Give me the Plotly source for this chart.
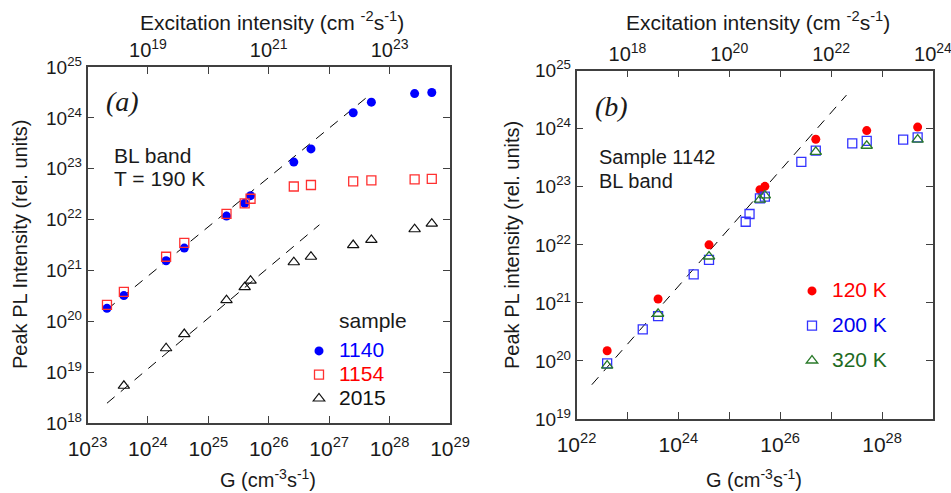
import plotly.graph_objects as go

# ---------------- data: panel (a) ----------------
G_a = [2.1e23, 4e23, 2e24, 4e24, 2e25, 4e25, 5e25, 2.6e26, 5e26, 2.5e27, 5e27, 2.6e28, 5e28]
I_1140 = [1.8e20, 3.2e20, 1.55e21, 2.75e21, 1.17e22, 2.1e22, 2.95e22, 1.35e23, 2.45e23,
          1.26e24, 2.04e24, 3.0e24, 3.16e24]
I_1154 = [2.1e20, 3.8e20, 1.86e21, 3.47e21, 1.29e22, 2.09e22, 2.57e22, 4.47e22, 4.79e22,
          5.62e22, 5.89e22, 6.17e22, 6.3e22]
G_a_2015 = [4e23, 2e24, 4e24, 2e25, 4e25, 5e25, 2.6e26, 5e26, 2.5e27, 5e27, 2.6e28, 5e28]
I_2015 = [5.4e18, 2.95e19, 5.6e19, 2.6e20, 4.7e20, 6.3e20, 1.45e21, 1.86e21, 3.16e21,
          3.98e21, 6.46e21, 8.3e21]
fit_a1_x = [2.1e23, 5.0e27]
fit_a1_y = [1.7e20, 3.0e24]
fit_a2_x = [2.1e23, 6.9e26]
fit_a2_y = [2.45e18, 7.9e21]

# ---------------- data: panel (b) ----------------
G_b_few = [4e22, 4e23, 4e24, 4e25, 5e25, 5e26, 5e27, 5e28]
I_120K = [1.5e20, 1.17e21, 1.0e22, 8.9e22, 1.02e23, 6.6e23, 9.3e23, 1.07e24]
G_b_200 = [4e22, 2e23, 4e23, 2e24, 4e24, 2.1e25, 2.5e25, 4e25, 5e25, 2.6e26, 5e26,
           2.6e27, 5e27, 2.6e28, 5e28]
I_200K = [9.1e19, 3.5e20, 5.9e20, 3.1e21, 5.5e21, 2.5e22, 3.4e22, 6.3e22, 6.8e22,
          2.7e23, 4.2e23, 5.6e23, 6.2e23, 6.5e23, 7.1e23]
I_320K = [8.3e19, 6.5e20, 6.3e21, 6.0e22, 7.1e22, 4.0e23, 5.1e23, 6.5e23]
fit_b_x = [2e22, 2e27]
fit_b_y = [3.9e19, 3.8e24]

# tick decades
a_bottom_dec = list(range(23, 30))
a_top_dec = list(range(18, 25))
a_top_lab = [19, 21, 23]
a_y_dec = list(range(18, 26))
b_bottom_dec = list(range(22, 30))
b_bottom_lab = [22, 24, 26, 28]
b_top_dec = list(range(17, 25))
b_top_lab = [18, 20, 22, 24]
b_y_dec = list(range(19, 26))

FONT = "Liberation Sans"
TXT = "#1a1a1a"
LINE = "#404040"
W, H = 951, 493


def ticks(decs, labelled=None):
    vals = [10.0 ** d for d in decs]
    txt = [("10<sup>%d</sup>" % d) if (labelled is None or d in labelled) else "" for d in decs]
    return vals, txt


def lname(text, color):
    return "<span style='color:%s;font-size:21px'>%s</span>" % (color, text)


fig = go.Figure()

# panel (a) traces
fig.add_trace(go.Scatter(x=fit_a1_x, y=fit_a1_y, mode="lines", xaxis="x", yaxis="y",
                         line=dict(color="black", width=1, dash="10px,8px"),
                         showlegend=False, hoverinfo="skip"))
fig.add_trace(go.Scatter(x=fit_a2_x, y=fit_a2_y, mode="lines", xaxis="x", yaxis="y",
                         line=dict(color="black", width=1, dash="10px,8px"),
                         showlegend=False, hoverinfo="skip"))
fig.add_trace(go.Scatter(x=G_a, y=I_1140, mode="markers", xaxis="x", yaxis="y",
                         name=lname("1140", "#0000ff"), legend="legend", legendgroup="a1",
                         marker=dict(symbol="circle", size=9, color="#0000ff")))
fig.add_trace(go.Scatter(x=G_a, y=I_1154, mode="markers", xaxis="x", yaxis="y",
                         name=lname("1154", "#ff0000"), legend="legend", legendgroup="a2",
                         marker=dict(symbol="square-open", size=9, color="#ff3030",
                                     line=dict(width=1.3))))
fig.add_trace(go.Scatter(x=G_a_2015, y=I_2015, mode="markers", xaxis="x", yaxis="y",
                         name=lname("2015", "#111111"), legend="legend", legendgroup="a3",
                         marker=dict(symbol="triangle-up-open", size=10, color="#111111",
                                     line=dict(width=1.2))))
fig.add_trace(go.Scatter(x=[], y=[], xaxis="x3", yaxis="y", showlegend=False, hoverinfo="skip"))

# panel (b) traces
fig.add_trace(go.Scatter(x=fit_b_x, y=fit_b_y, mode="lines", xaxis="x2", yaxis="y2",
                         line=dict(color="black", width=1, dash="10px,8px"),
                         showlegend=False, hoverinfo="skip"))
fig.add_trace(go.Scatter(x=G_b_few, y=I_120K, mode="markers", xaxis="x2", yaxis="y2",
                         name=lname("120 K", "#ff0000"), legend="legend2", legendgroup="b1",
                         marker=dict(symbol="circle", size=9, color="#ff0000")))
fig.add_trace(go.Scatter(x=G_b_200, y=I_200K, mode="markers", xaxis="x2", yaxis="y2",
                         name=lname("200 K", "#0000ee"), legend="legend2", legendgroup="b2",
                         marker=dict(symbol="square-open", size=9, color="#3333ff",
                                     line=dict(width=1.3))))
fig.add_trace(go.Scatter(x=G_b_few, y=I_320K, mode="markers", xaxis="x2", yaxis="y2",
                         name=lname("320 K", "#1e6b1e"), legend="legend2", legendgroup="b3",
                         marker=dict(symbol="triangle-up-open", size=10, color="#2a7a2a",
                                     line=dict(width=1.3))))
fig.add_trace(go.Scatter(x=[], y=[], xaxis="x4", yaxis="y2", showlegend=False, hoverinfo="skip"))

common = dict(type="log", showgrid=False, zeroline=False, showline=True, linecolor=LINE,
              linewidth=1.5, ticks="inside", ticklen=7, tickwidth=1.2, tickcolor=LINE,
              tickmode="array", automargin=False, ticklabeloverflow="allow")

xa_v, xa_t = ticks(a_bottom_dec)
xa3_v, xa3_t = ticks(a_top_dec, a_top_lab)
ya_v, ya_t = ticks(a_y_dec)
xb_v, xb_t = ticks(b_bottom_dec, b_bottom_lab)
xb4_v, xb4_t = ticks(b_top_dec, b_top_lab)
yb_v, yb_t = ticks(b_y_dec)

xdom_a = [87.5 / W, 450 / W]
ydom_a = [1 - 423 / H, 1 - 67 / H]
xdom_b = [576.5 / W, 933 / W]
ydom_b = [1 - 419 / H, 1 - 70.7 / H]

fig.update_layout(
    width=W, height=H, margin=dict(l=0, r=0, t=0, b=0, pad=0, autoexpand=False),
    paper_bgcolor="white", plot_bgcolor="white",
    font=dict(family=FONT, color=TXT, size=20),
    xaxis=dict(common, domain=xdom_a, anchor="y", range=[23, 29.0005], tickvals=xa_v,
               ticktext=xa_t, tickfont=dict(size=21), ticklabelstandoff=6),
    yaxis=dict(common, domain=ydom_a, anchor="x", range=[18, 25.0005], tickvals=ya_v,
               ticktext=ya_t, mirror="ticks", tickfont=dict(size=19)),
    xaxis3=dict(common, overlaying="x", anchor="y", side="top", range=[18, 24.0005],
                tickvals=xa3_v, ticktext=xa3_t, tickfont=dict(size=20)),
    xaxis2=dict(common, domain=xdom_b, anchor="y2", range=[22, 29.0005], tickvals=xb_v,
                ticktext=xb_t, tickfont=dict(size=21), ticklabelstandoff=6),
    yaxis2=dict(common, domain=ydom_b, anchor="x2", range=[19, 25.0005], tickvals=yb_v,
                ticktext=yb_t, mirror="ticks", tickfont=dict(size=19)),
    xaxis4=dict(common, overlaying="x2", anchor="y2", side="top", range=[17, 24.0005],
                tickvals=xb4_v, ticktext=xb4_t, tickfont=dict(size=20)),
    legend=dict(x=299 / W, y=1 - 334 / H, xanchor="left", yanchor="top",
                bgcolor="rgba(0,0,0,0)", font=dict(size=16, family=FONT, color=TXT),
                tracegroupgap=0),
    legend2=dict(x=792 / W, y=1 - 274 / H, xanchor="left", yanchor="top",
                 bgcolor="rgba(0,0,0,0)", font=dict(size=16, family=FONT, color=TXT),
                 tracegroupgap=11),
    showlegend=True,
)

ann = []


def add_text(text, px, py, size=20, angle=0, family=FONT, xanchor="center"):
    ann.append(dict(text=text, x=px / W, y=1 - py / H, xref="paper", yref="paper",
                    showarrow=False, textangle=angle, xanchor=xanchor, yanchor="middle",
                    font=dict(size=size, family=family, color=TXT)))


# axis titles
add_text("G (cm<sup>-3</sup>s<sup>-1</sup>)", 268, 478)
add_text("Excitation intensity (cm <sup>-2</sup>s<sup>-1</sup>)", 272, 21, size=21)
add_text("Peak PL Intensity (rel. units)", 20, 245, angle=-90)
add_text("G (cm<sup>-3</sup>s<sup>-1</sup>)", 754, 478)
add_text("Excitation intensity (cm <sup>-2</sup>s<sup>-1</sup>)", 758, 21, size=21)
add_text("Peak PL intensity (rel. units)", 512, 245, angle=-90)
# panel labels and notes
add_text("<i>(a)</i>", 104, 102, size=28, family="Liberation Serif", xanchor="left")
add_text("BL band", 112, 156, size=21, xanchor="left")
add_text("T = 190 K", 112, 178, size=21, xanchor="left")
add_text("sample", 337, 320, size=21, xanchor="left")
add_text("<i>(b)</i>", 593, 106, size=28, family="Liberation Serif", xanchor="left")
add_text("Sample 1142", 597, 157, size=20, xanchor="left")
add_text("BL band", 597, 181, size=20, xanchor="left")

fig.update_layout(annotations=ann)
fig.write_html("out.html")
